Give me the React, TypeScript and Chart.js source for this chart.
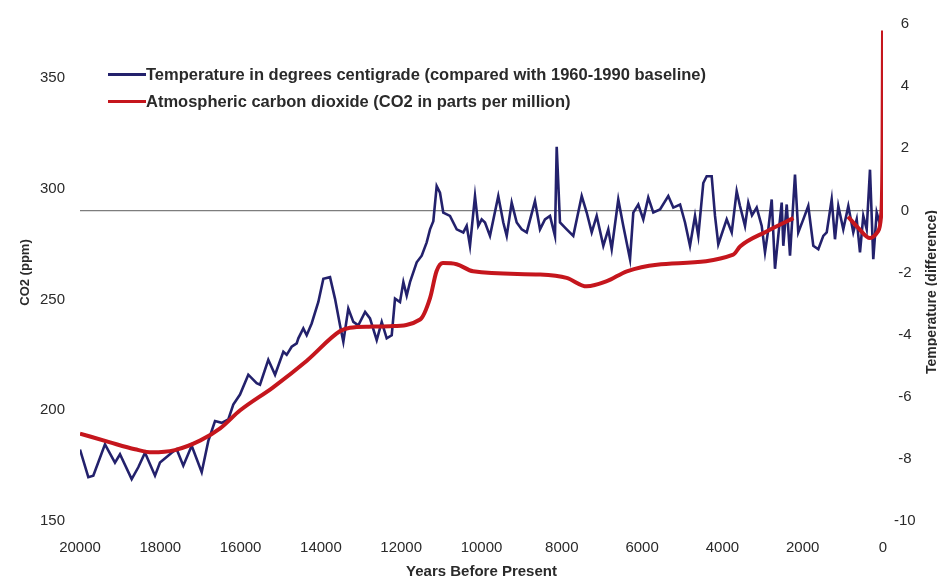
import React, { useEffect, useRef } from 'react';
import { Chart, registerables } from 'chart.js';

Chart.register(...registerables);

const FONT = '"Liberation Sans", Arial, sans-serif';

// Temperature (difference from 1960-1990 baseline), years before present
const tempYears = [
  20000, 19793, 19669, 19378, 19129, 19004, 18713, 18548, 18381, 18132, 18008, 17716, 17592, 17427, 17218,
  16969, 16804, 16637, 16471, 16306, 16182, 16015, 15808, 15600, 15517, 15310, 15142, 14936, 14852, 14728,
  14603, 14562, 14438, 14354, 14230, 14064, 13939, 13773, 13649, 13524, 13441, 13317, 13192, 13068, 12899,
  12777, 12610, 12485, 12361, 12236, 12154, 12030, 11946, 11863, 11781, 11614, 11489, 11365, 11282, 11200,
  11116, 11034, 10952, 10785, 10618, 10453, 10369, 10287, 10162, 10080, 9995, 9913, 9789, 9582, 9457,
  9372, 9248, 9123, 8999, 8874, 8668, 8543, 8419, 8294, 8170, 8127, 8045, 7878, 7714, 7504,
  7380, 7255, 7131, 6966, 6842, 6757, 6593, 6468, 6301, 6219, 6095, 5970, 5846, 5721, 5554,
  5348, 5223, 5054, 4931, 4807, 4682, 4600, 4476, 4391, 4267, 4184, 4102, 3893, 3768, 3644,
  3562, 3437, 3355, 3263, 3146, 3021, 2939, 2857, 2772, 2690, 2608, 2523, 2483, 2398, 2316,
  2192, 2110, 1985, 1861, 1736, 1611, 1487, 1402, 1278, 1196, 1113, 989, 864, 740, 655,
  573, 491, 406, 324, 242, 157, 75, 0,
];
const tempValues = [
  -7.7, -8.59, -8.54, -7.53, -8.12, -7.85, -8.65, -8.27, -7.8, -8.54, -8.12, -7.8, -7.69, -8.22, -7.58,
  -8.43, -7.42, -6.78, -6.84, -6.73, -6.25, -5.93, -5.29, -5.56, -5.61, -4.81, -5.29, -4.55, -4.65, -4.39,
  -4.28, -4.12, -3.8, -4.02, -3.64, -2.95, -2.2, -2.15, -2.84, -3.7, -4.23, -3.16, -3.59, -3.7, -3.27,
  -3.48, -4.18, -3.59, -4.12, -4.02, -2.84, -2.95, -2.31, -2.74, -2.31, -1.67, -1.46, -1.03, -0.61, -0.35,
  0.78, 0.57, -0.07, -0.18, -0.61, -0.71, -0.5, -1.14, 0.46, -0.5, -0.29, -0.39, -0.82, 0.46, -0.39,
  -0.82, 0.25, -0.39, -0.61, -0.71, 0.3, -0.61, -0.29, -0.18, -0.82, 2.05, -0.39, -0.61, -0.82, 0.46,
  -0.07, -0.71, -0.18, -1.14, -0.61, -1.25, 0.35, -0.5, -1.57, -0.07, 0.19, -0.29, 0.41, -0.07, 0.03,
  0.46, 0.09, 0.19, -0.39, -1.14, -0.18, -0.82, 0.88, 1.1, 1.1, -0.18, -1.09, -0.29, -0.71, 0.62,
  0.14, -0.5, 0.25, -0.16, 0.09, -0.5, -1.35, -0.61, 0.35, -1.88, -0.82, 0.25, -1.14, 0.19, -1.46,
  1.15, -0.71, -0.29, 0.14, -1.14, -1.25, -0.82, -0.71, 0.35, -0.93, 0.14, -0.61, 0.14, -0.71, -0.29,
  -1.35, -0.18, -0.61, 1.31, -1.57, -0.07, -0.45, 0.19,
];

// Atmospheric CO2 (ppm), ice-core record
const co2Years = [
  20000, 19250, 18630, 18200, 17640, 17000, 16510, 16010, 15190, 14350, 13520, 13280, 12800, 12280, 11530,
  11280, 11120, 10960, 10620, 10210, 8540, 7880, 7380, 6880, 6380, 5630, 3730, 3560, 2900, 2230,
];
const co2Values = [
  189.5, 185.5, 182.4, 181, 182, 186.4, 191.8, 200, 210.4, 222.4, 235.8, 237.3, 237.8, 238, 241,
  250.8, 262.8, 266.5, 266, 262.8, 261.3, 259.8, 256, 258.3, 262.8, 265.8, 270.3, 274, 280.8, 286.8,
];
// Recent CO2 (ppm)
const co2RecentYears = [872, 623, 324, 125, 50, 12, 0];
const co2RecentValues = [287.5, 282.5, 277.8, 280.8, 287.4, 316.7, 371.6];

const xTicks = [20000, 18000, 16000, 14000, 12000, 10000, 8000, 6000, 4000, 2000, 0];
const co2Ticks = [150, 200, 250, 300, 350];
const tempTicks = [-10, -8, -6, -4, -2, 0, 2, 4, 6];

const legendTemp = 'Temperature in degrees centigrade (compared with 1960-1990 baseline)';
const legendCo2 = 'Atmospheric carbon dioxide (CO2 in parts per million)';
const xTitle = 'Years Before Present';
const leftTitle = 'CO2 (ppm)';
const rightTitle = 'Temperature (difference)';

const BLUE = '#23216c';
const RED = '#c5161d';
const TEXT = '#2a2a2a';

const zip = (xs: number[], ys: number[]) => xs.map((x, i) => ({ x, y: ys[i] }));

const rightTitlePlugin = {
  id: 'rightTitle',
  afterDraw(chart: any) {
    const ctx = chart.ctx;
    ctx.save();
    ctx.translate(932, 292);
    ctx.rotate(-Math.PI / 2);
    ctx.font = `bold 14px ${FONT}`;
    ctx.fillStyle = TEXT;
    ctx.textAlign = 'center';
    ctx.textBaseline = 'middle';
    ctx.fillText(rightTitle, 0, 0);
    ctx.restore();
  },
};

export default function App() {
  const ref = useRef<HTMLCanvasElement>(null);

  useEffect(() => {
    document.body.style.margin = '0';
    const tickFont = { family: FONT, size: 15 };
    const chart = new Chart(ref.current as HTMLCanvasElement, {
      type: 'line',
      data: {
        datasets: [
          {
            label: legendCo2,
            data: zip(co2Years, co2Values),
            yAxisID: 'yL',
            borderColor: RED,
            borderWidth: 4,
            pointRadius: 0,
            cubicInterpolationMode: 'monotone',
            fill: false,
          },
          {
            label: legendCo2 + ' (recent)',
            data: zip(co2RecentYears, co2RecentValues),
            yAxisID: 'yL',
            borderColor: RED,
            borderWidth: 4,
            pointRadius: 0,
            cubicInterpolationMode: 'monotone',
            fill: false,
          },
          {
            label: legendTemp,
            data: zip(tempYears, tempValues),
            yAxisID: 'yR',
            borderColor: BLUE,
            borderWidth: 2.6,
            pointRadius: 0,
            tension: 0,
            fill: false,
          },
        ],
      },
      options: {
        responsive: false,
        animation: false,
        layout: { padding: { top: 22, left: 0, right: 0, bottom: 0 } },
        plugins: { legend: { display: false }, tooltip: { enabled: false } },
        scales: {
          x: {
            type: 'linear',
            reverse: true,
            min: 0,
            max: 20000,
            afterBuildTicks: (s: any) => {
              s.ticks = xTicks.map((v) => ({ value: v }));
            },
            afterFit: (s: any) => {
              s.height = 58;
            },
            ticks: {
              autoSkip: false,
              maxRotation: 0,
              padding: 18,
              color: TEXT,
              font: tickFont,
              callback: (v: any) => String(v),
            },
            grid: { display: false, drawTicks: false },
            border: { display: false },
            title: {
              display: true,
              text: xTitle,
              color: TEXT,
              font: { family: FONT, size: 15, weight: 'bold', lineHeight: 1 },
              padding: { top: 0, bottom: 0 },
            },
          },
          yL: {
            type: 'linear',
            position: 'left',
            min: 150,
            max: 374.5,
            afterBuildTicks: (s: any) => {
              s.ticks = co2Ticks.map((v) => ({ value: v }));
            },
            afterFit: (s: any) => {
              s.width = 80;
            },
            ticks: { padding: 15, color: TEXT, font: tickFont },
            grid: { display: false, drawTicks: false },
            border: { display: false },
            title: {
              display: true,
              text: leftTitle,
              color: TEXT,
              font: { family: FONT, size: 13, weight: 'bold' },
              padding: { top: 18, bottom: 0 },
            },
          },
          yR: {
            type: 'linear',
            position: 'right',
            min: -10,
            max: 6,
            afterBuildTicks: (s: any) => {
              s.ticks = tempTicks.map((v) => ({ value: v }));
            },
            afterFit: (s: any) => {
              s.width = 54;
            },
            ticks: { padding: 11, color: TEXT, font: tickFont, crossAlign: 'center' },
            grid: {
              drawTicks: false,
              lineWidth: 1.2,
              color: (ctx: any) => (ctx.tick && ctx.tick.value === 0 ? '#7d7d7d' : 'rgba(0,0,0,0)'),
            },
            border: { display: false },
          },
        },
      },
      plugins: [rightTitlePlugin],
    } as any);
    return () => chart.destroy();
  }, []);

  const legendText: React.CSSProperties = {
    position: 'absolute',
    left: 146,
    fontFamily: FONT,
    fontWeight: 'bold',
    fontSize: 16.5,
    color: TEXT,
    whiteSpace: 'nowrap',
    lineHeight: '20px',
  };
  const legendLine = (color: string, top: number): React.CSSProperties => ({
    position: 'absolute',
    left: 108,
    top,
    width: 38,
    height: 3,
    background: color,
  });

  return (
    <div style={{ position: 'relative', width: 937, height: 579, background: '#fff', overflow: 'hidden' }}>
      <canvas ref={ref} width={937} height={579} style={{ display: 'block', width: 937, height: 579 }} />
      <div style={legendLine(BLUE, 73)} />
      <div style={{ ...legendText, top: 64 }}>{legendTemp}</div>
      <div style={legendLine(RED, 100)} />
      <div style={{ ...legendText, top: 91 }}>{legendCo2}</div>
    </div>
  );
}
